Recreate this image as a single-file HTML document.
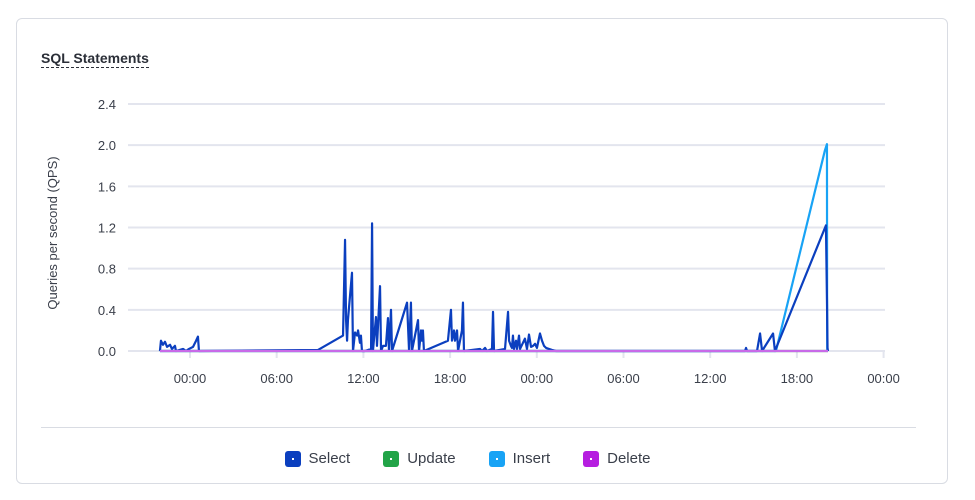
<!DOCTYPE html>
<html><head><meta charset="utf-8"><style>
body{margin:0;width:975px;height:500px;background:#fff;font-family:"Liberation Sans",sans-serif;overflow:hidden}
.card{position:absolute;left:16px;top:18px;width:932px;height:466px;border:1px solid #d9dce3;border-radius:6px;box-sizing:border-box}
.title{position:absolute;left:41px;top:50px;font-size:14px;font-weight:bold;color:#2b2f38;border-bottom:1px dashed #2b2f38;padding-bottom:1px}
.sep{position:absolute;left:41px;top:427px;width:875px;height:1px;background:#d9dce3}
.legend{position:absolute;top:450px;left:0;width:935px;display:flex;justify-content:center;gap:33px;font-size:15px;color:#3a3f4a}
.li{display:flex;align-items:center;gap:8px}
.sw{width:16px;height:16px;border-radius:3px;position:relative}
.sw::after{content:"";position:absolute;left:7px;top:7px;width:2px;height:2px;background:#fff}
</style></head><body>
<div class="card"></div>
<div class="title">SQL Statements</div>
<svg id="c" width="975" height="500" style="position:absolute;left:0;top:0"></svg>
<div class="sep"></div>
<div class="legend">
<div class="li"><div class="sw" style="background:#0b3fbf"></div>Select</div>
<div class="li"><div class="sw" style="background:#22a447"></div>Update</div>
<div class="li"><div class="sw" style="background:#18a3f5"></div>Insert</div>
<div class="li"><div class="sw" style="background:#b61ee0"></div>Delete</div>
</div>
<script>
const yTicks=[0,0.4,0.8,1.2,1.6,2.0,2.4];
const xTickHours=[0,6,12,18,24,30,36,42,48];
const xTickLabels=["00:00","06:00","12:00","18:00","00:00","06:00","12:00","18:00","00:00"];
const selectHours=[-2.08,-2.01,-1.87,-1.73,-1.59,-1.38,-1.25,-1.04,-0.97,-0.48,-0.28,-0.07,0.21,0.42,0.55,0.62,8.86,10.59,10.73,10.80,10.87,10.93,11.21,11.28,11.42,11.56,11.63,11.76,11.83,11.90,12.11,12.53,12.60,12.66,12.87,12.94,13.15,13.22,13.36,13.56,13.70,13.77,13.91,13.98,15.02,15.16,15.29,15.36,15.78,15.85,15.99,16.06,16.12,16.19,17.85,17.99,18.06,18.13,18.27,18.34,18.48,18.55,18.82,18.89,18.96,20.07,20.21,20.42,20.55,20.90,20.97,21.04,21.80,22.01,22.08,22.21,22.28,22.35,22.42,22.56,22.63,22.77,22.84,23.18,23.32,23.46,23.60,23.74,23.88,24.01,24.22,24.36,24.50,24.64,24.84,25.05,25.33,38.41,38.48,38.55,39.24,39.45,39.59,40.35,40.48,44.01,44.08,44.12,44.15];
const selectValues=[0,0.1,0.06,0.09,0.04,0.06,0.02,0.05,0,0.02,0,0.02,0.04,0.1,0.14,0,0.01,0.15,1.08,0.3,0.1,0.3,0.76,0,0.18,0.15,0.2,0.08,0.15,0,0,0.02,1.24,0,0.33,0.05,0.63,0,0.05,0.05,0.32,0,0.4,0,0.47,0,0.47,0,0.3,0,0.2,0.1,0.2,0,0.1,0.3,0.4,0.1,0.2,0.1,0.2,0,0.2,0.47,0,0.02,0,0.03,0,0.02,0.38,0,0.02,0.38,0.1,0.05,0.03,0.15,0.02,0.1,0.02,0.15,0.02,0.12,0.02,0.16,0.04,0.05,0.07,0.03,0.17,0.1,0.05,0.03,0.02,0.01,0,0,0.03,0,0,0.17,0,0.17,0,1.22,0.5,0.03,0];
const insertHours=[-2.08,40.55,43.94,44.08,44.09,44.1];
const insertValues=[0,0,1.95,2.01,0.5,0];
const flatHours=[-2.08,44.15];
const updateValues=[0,0];
const deleteValues=[0,0];
const svg=document.getElementById('c');const NS='http://www.w3.org/2000/svg';
const X=h=>190+h*14.45, Y=v=>351-v*(247/2.4);
function el(t,a){const e=document.createElementNS(NS,t);for(const k in a)e.setAttribute(k,a[k]);svg.appendChild(e);return e;}
yTicks.forEach(v=>{
 const l=el('line',{x1:128,x2:885,y1:Y(v),y2:Y(v),stroke:'#e3e5ee','stroke-width':2});
 
 
 const t=el('text',{x:116,y:Y(v)+5,'text-anchor':'end','font-size':13,fill:'#3a3f4a'});t.textContent=v.toFixed(1);
 
 
});
xTickHours.forEach((h,i)=>{
 const l=el('line',{x1:X(h),x2:X(h),y1:352,y2:358,stroke:'#e3e5ee','stroke-width':2});
 
 
 const t=el('text',{x:X(h),y:383,'text-anchor':'middle','font-size':13,fill:'#3a3f4a'});t.textContent=xTickLabels[i];
 
 
});
const yt=el('text',{x:57,y:233,transform:'rotate(-90 57 233)','text-anchor':'middle','font-size':13,fill:'#3a3f4a'});yt.textContent='Queries per second (QPS)';


function line(hs,vs,c,n){const p=el('polyline',{points:hs.map((h,i)=>X(h)+','+Y(vs[i])).join(' '),fill:'none',stroke:c,'stroke-width':2.2,'stroke-linejoin':'round'});
 
 }
line(flatHours,updateValues,'#22a447','series-update');
line(insertHours,insertValues,'#18a3f5','series-insert');
line(selectHours,selectValues,'#0b3fbf','series-select');
line(flatHours,deleteValues,'#c86ae8','series-delete');
</script>
</body></html>
